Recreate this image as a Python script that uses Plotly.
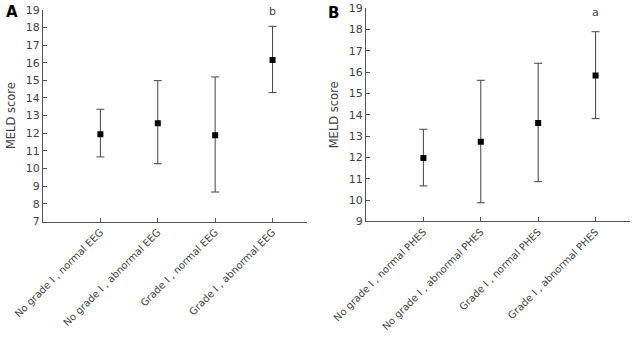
import plotly.graph_objects as go

cats_eeg = ["No grade Ⅰ , normal EEG", "No grade Ⅰ , abnormal EEG",
            "Grade Ⅰ , normal EEG", "Grade Ⅰ , abnormal EEG"]
cats_phes = ["No grade Ⅰ , normal PHES", "No grade Ⅰ , abnormal PHES",
             "Grade Ⅰ , normal PHES", "Grade Ⅰ , abnormal PHES"]

eeg_mean = [11.95, 12.57, 11.89, 16.15]
eeg_upper = [13.36, 14.98, 15.19, 18.06]
eeg_lower = [10.66, 10.27, 8.67, 14.30]

phes_mean = [11.97, 12.74, 13.62, 15.85]
phes_upper = [13.32, 15.62, 16.42, 17.90]
phes_lower = [10.66, 9.87, 10.86, 13.82]

W, H = 638, 340
FONT = "DejaVu Sans"
AX = "#555555"

def fx(px):
    return px / W

def fy(py):
    return 1 - py / H

fig = go.Figure()

def add_panel(idx, cats, mean, upper, lower):
    xr = "x" if idx == 1 else "x2"
    yr = "y" if idx == 1 else "y2"
    fig.add_trace(go.Scatter(
        x=list(range(len(cats))), y=mean, mode="markers",
        marker=dict(symbol="square", size=6, color="#000000"),
        error_y=dict(type="data", symmetric=False,
                     array=[u - m for u, m in zip(upper, mean)],
                     arrayminus=[m - l for m, l in zip(mean, lower)],
                     color="#444444", thickness=1, width=4),
        xaxis=xr, yaxis=yr, showlegend=False, hoverinfo="skip"))

add_panel(1, cats_eeg, eeg_mean, eeg_upper, eeg_lower)
add_panel(2, cats_phes, phes_mean, phes_upper, phes_lower)

tickfont = dict(family=FONT, size=10, color="#444444")

def xaxis(dom, cats, anchor):
    return dict(domain=dom, anchor=anchor, range=[-1, 3.6], automargin=False,
                tickmode="array", tickvals=list(range(len(cats))), ticktext=cats,
                tickangle=-45, ticks="inside", ticklen=4, tickcolor=AX,
                showline=True, linecolor=AX, linewidth=1, showgrid=False,
                zeroline=False, tickfont=tickfont)

def yaxis(dom, rng, anchor):
    return dict(domain=dom, anchor=anchor, range=rng, dtick=1, automargin=False,
                ticks="inside", ticklen=4, tickcolor=AX,
                showline=True, linecolor=AX, linewidth=1, showgrid=False,
                zeroline=False, tickfont=dict(family=FONT, size=11, color="#444444"),
                title=dict(text="MELD score", font=dict(family=FONT, size=11.5, color="#444444"),
                           standoff=7))

fig.update_layout(
    width=W, height=H, margin=dict(l=0, r=0, t=0, b=0, autoexpand=False),
    paper_bgcolor="white", plot_bgcolor="white",
    xaxis=xaxis([fx(43), fx(307)], cats_eeg, "y"),
    yaxis=yaxis([fy(221.5), fy(9.7)], [7, 19], "x"),
    xaxis2=xaxis([fx(366), fx(630)], cats_phes, "y2"),
    yaxis2=yaxis([fy(221.3), fy(8.3)], [9, 19], "x2"),
    annotations=[
        dict(text="b", x=3, y=18.87, xref="x", yref="y", showarrow=False,
             xanchor="center", yanchor="middle",
             font=dict(family=FONT, size=11, color="#444444")),
        dict(text="a", x=3, y=18.79, xref="x2", yref="y2", showarrow=False,
             xanchor="center", yanchor="middle",
             font=dict(family=FONT, size=11, color="#444444")),
        dict(text="<b>A</b>", x=fx(12), y=fy(12), xref="paper", yref="paper",
             xanchor="center", yanchor="middle",
             showarrow=False, font=dict(family=FONT, size=15, color="#000000")),
        dict(text="<b>B</b>", x=fx(333), y=fy(13), xref="paper", yref="paper",
             xanchor="center", yanchor="middle",
             showarrow=False, font=dict(family=FONT, size=15, color="#000000")),
    ],
)

fig.write_html("out.html", config={"displayModeBar": False},
               post_script="document.body.style.margin='0';")
